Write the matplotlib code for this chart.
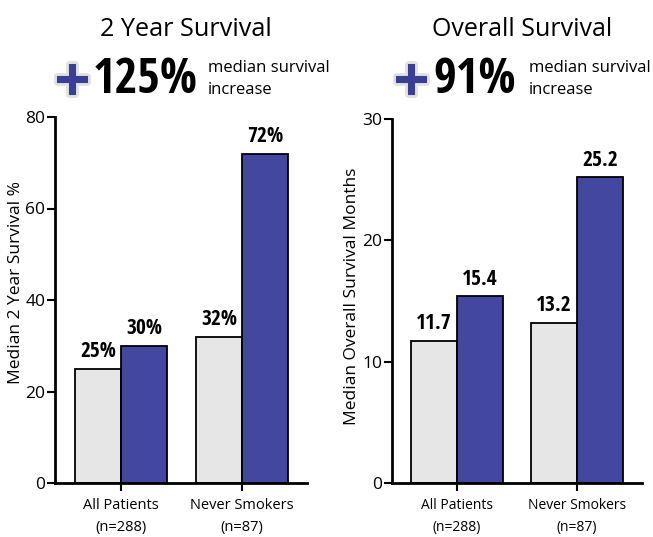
import matplotlib
matplotlib.use("Agg")
import matplotlib.pyplot as plt
import matplotlib.patheffects as pe
from matplotlib import font_manager
from matplotlib.font_manager import FontProperties
import numpy as np

plt.rcParams['font.family'] = ['Open Sans', 'DejaVu Sans']

def find_condensed_bold():
    cands = []
    for f in font_manager.fontManager.ttflist:
        nm = (f.name + " " + f.fname).lower()
        narrow = ("narrow" in nm or "condensed" in nm or "cond" in nm
                  or str(f.stretch) in ("condensed", "semi-condensed", "extra-condensed"))
        bold = (f.weight in ("bold", 700, "heavy", 800, "black", 900)
                or "bold" in f.fname.lower())
        if narrow and bold and "mono" not in nm and "serif" not in nm.replace("sans", ""):
            cands.append(f)
    for pref in ("open", "roboto", "liberation", "noto", "dejavu", ""):
        for f in cands:
            if pref in (f.name + f.fname).lower():
                return FontProperties(fname=f.fname)
    return None

COND = find_condensed_bold()

groups = ["All Patients\n(n=288)", "Never Smokers\n(n=87)"]
surv2_gray = [25, 32]
surv2_blue = [30, 72]
surv2_labels_gray = ["25%", "32%"]
surv2_labels_blue = ["30%", "72%"]
os_gray = [11.7, 13.2]
os_blue = [15.4, 25.2]
os_labels_gray = ["11.7", "13.2"]
os_labels_blue = ["15.4", "25.2"]

GRAY = "#e6e6e6"
BLUE = "#4347a0"
W, H = 653, 537

fig = plt.figure(figsize=(W/100, H/100), dpi=100)
renderer = fig.canvas.get_renderer()

def bold_font(size):
    if COND is not None:
        fp = COND.copy()
        fp.set_size(size)
        return fp
    return FontProperties(family="Open Sans", weight="bold", size=size)

def fit_width(t, target):
    w = t.get_window_extent(renderer).width
    if w > target:
        t.set_fontsize(t.get_fontsize() * target / w)

def px(x, y):
    return x / W, 1 - y / H

def make_ax(rect, gray, blue, lg, lb, ymax, yticks, ylabel, xlim, label_xy,
            xfs, xls):
    ax = fig.add_axes(rect)
    x = np.arange(len(gray))
    bw = 0.38
    ax.bar(x - bw/2, gray, bw, color=GRAY, edgecolor="black", linewidth=1.3, zorder=2)
    ax.bar(x + bw/2, blue, bw, color=BLUE, edgecolor="black", linewidth=1.3, zorder=2)
    for xs, vals, labs in ((x - bw/2, gray, lg), (x + bw/2, blue, lb)):
        for xi, v, t in zip(xs, vals, labs):
            tt = ax.text(xi, v + ymax*0.018, t, ha="center", va="bottom",
                         fontproperties=bold_font(16))
            fit_width(tt, 36)
    ax.set_xlim(*xlim)
    ax.set_ylim(0, ymax)
    ax.set_yticks(yticks)
    ax.set_yticklabels([str(t) for t in yticks], fontsize=12.5)
    ax.set_xticks(x)
    ax.set_xticklabels(groups, fontsize=xfs, linespacing=xls)
    for s in ["top", "right"]:
        ax.spines[s].set_visible(False)
    for s in ["left", "bottom"]:
        ax.spines[s].set_linewidth(2)
    ax.tick_params(axis="both", width=1.5, length=6, direction="out")
    ax.tick_params(axis="y", pad=1)
    ax.tick_params(axis="x", pad=5)
    ax.set_ylabel(ylabel, fontsize=12.5)
    ax.yaxis.set_label_coords(*label_xy)
    return ax

ax1 = make_ax([55/W, (H-483)/H, 252/W, 366/H], surv2_gray, surv2_blue, surv2_labels_gray,
              surv2_labels_blue, 80, [0, 20, 40, 60, 80], "Median 2 Year Survival %",
              (-0.545, 1.537), ((24-55)/252, (483-283)/366), 10.5, 1.6)
ax2 = make_ax([392/W, (H-483)/H, 250/W, 364/H], os_gray, os_blue, os_labels_gray,
              os_labels_blue, 30, [0, 10, 20, 30], "Median Overall Survival Months",
              (-0.54, 1.54), ((360-392)/250, (483-296)/364), 10, 1.6)

def header(cx, title, tw, big, plus_x, big_x, big_w, small_x):
    tt = fig.text(*px(cx, 29), title, ha="center", va="center", fontsize=21)
    fit_width(tt, tw)
    fig.text(*px(plus_x, 80), "+", ha="center", va="center", fontsize=35, fontweight="bold",
             color="#3a3f94", family="DejaVu Sans",
             path_effects=[pe.withStroke(linewidth=5, foreground="#e2e2e2"),
                           pe.withStroke(linewidth=0.8, foreground="#3a3f94")])
    bt = fig.text(*px(big_x, 80), big, ha="left", va="center", fontproperties=bold_font(37))
    fit_width(bt, big_w)
    fig.text(*px(small_x, 68), "median survival", ha="left", va="center", fontsize=12)
    fig.text(*px(small_x, 90), "increase", ha="left", va="center", fontsize=12)

header(186, "2 Year Survival", 172, "125%", 72, 93, 105, 208)
header(522, "Overall Survival", 180, "91%", 411, 433, 83, 529)

fig.savefig("out.png", dpi=100)
